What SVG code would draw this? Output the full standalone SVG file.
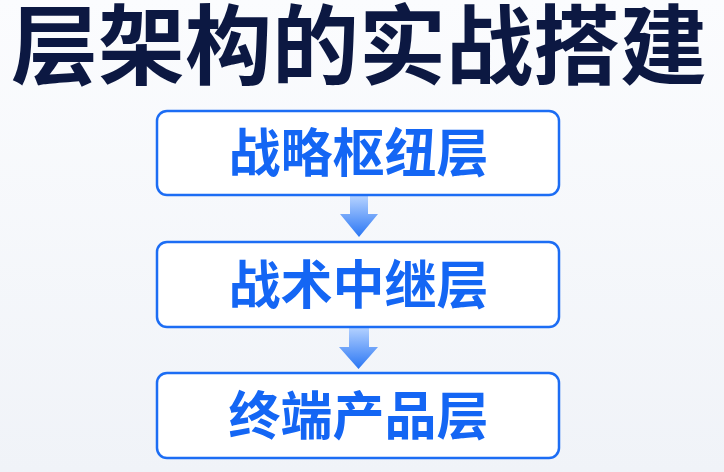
<svg xmlns="http://www.w3.org/2000/svg" width="724" height="472" viewBox="0 0 724 472">
  <defs>
    <linearGradient id="bg" x1="0" y1="0" x2="0" y2="1">
      <stop offset="0" stop-color="#fbfcfe"/>
      <stop offset="1" stop-color="#f0f3f8"/>
    </linearGradient>
    <linearGradient id="arrowGrad" x1="0" y1="0" x2="0" y2="1">
      <stop offset="0" stop-color="#b5d2ff"/>
      <stop offset="1" stop-color="#2a76f4"/>
    </linearGradient>
    <style>
      .title { font-family: "Noto Sans CJK SC", "Noto Sans", sans-serif; font-weight: 700; font-size: 87px; fill: #0c1842; }
      .box { fill: #ffffff; stroke: #1c6df4; stroke-width: 2.5; }
      .label { font-family: "Noto Sans CJK SC", "Noto Sans", sans-serif; font-weight: 700; font-size: 52px; fill: #1466f4; text-anchor: middle; }
      .arrow { fill: url(#arrowGrad); }
    </style>
  </defs>
  <rect width="724" height="472" fill="url(#bg)"/>
  <text class="title" x="359" y="78" text-anchor="middle">层架构的实战搭建</text>

  <g id="connectors">
    <path class="arrow" d="M350 196 H368 V214 H378 L359 237 L340 214 H350 Z"/>
    <path class="arrow" d="M349 327 H369 V347 H378 L358.5 369 L339 347 H349 Z"/>
  </g>

  <g id="node-strategy">
    <rect class="box" x="157" y="111" width="402" height="84" rx="10"/>
    <text class="label" x="358.5" y="172">战略枢纽层</text>
  </g>
  <g id="node-tactical">
    <rect class="box" x="157" y="242" width="402" height="85" rx="10"/>
    <text class="label" x="358.5" y="304">战术中继层</text>
  </g>
  <g id="node-terminal">
    <rect class="box" x="157" y="373" width="402" height="85" rx="10"/>
    <text class="label" x="358.5" y="435">终端产品层</text>
  </g>
</svg>
